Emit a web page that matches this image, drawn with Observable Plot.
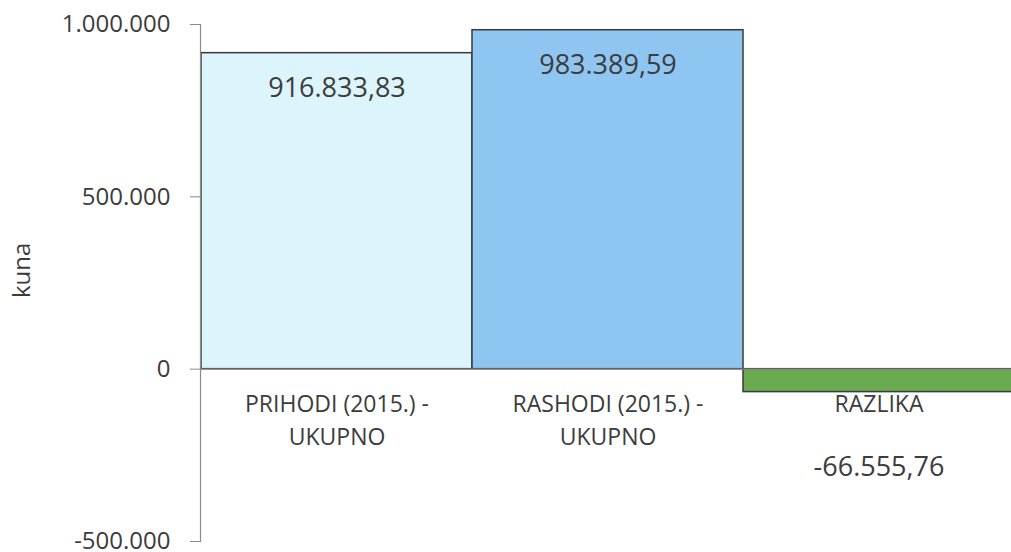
<!DOCTYPE html>
<html>
<head>
<meta charset="utf-8">
<script src="https://cdn.jsdelivr.net/npm/d3@7"></script>
<script src="https://cdn.jsdelivr.net/npm/@observablehq/plot@0.6"></script>
<style>
  html, body { margin: 0; padding: 0; background: #fff; overflow: hidden; }
  #chart svg { display: block; }
</style>
</head>
<body>
<div id="chart"></div>
<script>
const categories = ["PRIHODI (2015.) -\nUKUPNO", "RASHODI (2015.) -\nUKUPNO", "RAZLIKA"];
const values = [916833.83, 983389.59, -66555.76];
const colors = ["#dcf4fb", "#8ec5f1", "#6aab52"];
const yTicks = [-500000, 0, 500000, 1000000];

const locale = d3.formatLocale({decimal: ",", thousands: ".", grouping: [3], currency: ["", ""], minus: "-"});
const fmtInt = locale.format(",.0f");
const fmtVal = locale.format(",.2f");

const data = categories.map((c, i) => ({category: c, value: values[i], color: colors[i]}));
const pos = data.filter(d => d.value >= 0);
const neg = data.filter(d => d.value < 0);

const textColor = "#3c3c3c";
const font = "'Open Sans', sans-serif";

const chart = Plot.plot({
  width: 1011,
  height: 552,
  marginLeft: 200,
  marginRight: -3,
  marginTop: 24,
  marginBottom: 11,
  style: {fontFamily: font, color: textColor, background: "#fff"},
  x: {domain: categories, padding: 0, axis: null},
  y: {domain: [-500000, 1000000], axis: null},
  marks: [
    Plot.barY(data, {x: "category", y: "value", fill: d => d.color, stroke: "#3a3a3a", strokeWidth: 1.5, inset: 0}),
    Plot.ruleY([0], {stroke: "#8a8a8a", strokeWidth: 1.2}),
    Plot.frame({anchor: "left", stroke: "#8a8a8a", strokeWidth: 1.2}),
    Plot.axisY({ticks: yTicks, tickFormat: fmtInt, tickSize: 10, tickPadding: 20, fontSize: 24, stroke: "#8a8a8a", label: null, fill: textColor}),
    Plot.text(pos, {x: "category", y: "value", text: d => fmtVal(d.value), dy: 35, fontSize: 27, fill: textColor}),
    Plot.text(neg, {x: "category", y: "value", text: d => fmtVal(d.value), dy: 75, fontSize: 27, fill: textColor}),
    Plot.text(pos, {x: "category", y: () => 0, text: d => d.category.split("\n")[0], dy: 35, fontSize: 23, fill: textColor}),
    Plot.text(pos, {x: "category", y: () => 0, text: d => d.category.split("\n")[1], dy: 68, fontSize: 23, fill: textColor}),
    Plot.text(neg, {x: "category", y: () => 0, text: "category", dy: 35, fontSize: 23, fill: textColor}),
    Plot.text(["kuna"], {frameAnchor: "left", text: d => d, rotate: -90, dx: -178, dy: 15, fontSize: 24, fill: textColor})
  ]
});
document.getElementById("chart").appendChild(chart);
</script>
</body>
</html>
